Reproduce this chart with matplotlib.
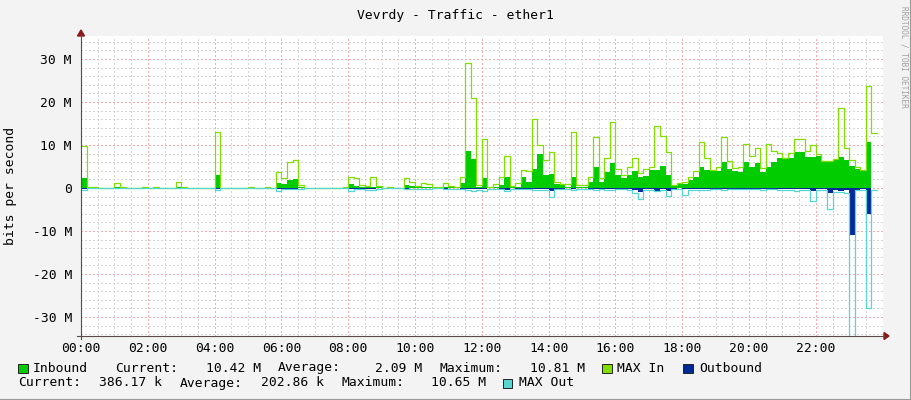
import numpy as np
import matplotlib
matplotlib.use("Agg")
import matplotlib.pyplot as plt
from matplotlib.patches import Rectangle, Polygon
from matplotlib.lines import Line2D

# ---------------- data (values in Mbit/s, 10-minute steps) ----------------
title = "Vevrdy - Traffic - ether1"
y_label = "bits per second"
x_tick_hours = [0, 2, 4, 6, 8, 10, 12, 14, 16, 18, 20, 22]
x_tick_labels = ["00:00", "02:00", "04:00", "06:00", "08:00", "10:00",
                 "12:00", "14:00", "16:00", "18:00", "20:00", "22:00"]
y_ticks = [-30, -20, -10, 0, 10, 20, 30]
y_tick_labels = ["-30 M", "-20 M", "-10 M", "0", "10 M", "20 M", "30 M"]
step_minutes = 10
nan = float("nan")

inbound = [
    2.3, 0, 0.1, 0, 0, 0,            # 00
    0.2, 0.1, 0, 0, 0, 0.1,          # 01
    0, 0.1, 0, 0, 0, 0.2,            # 02
    0.1, 0, 0, 0, 0, 0,              # 03
    3.0, 0, 0, 0, 0, 0,              # 04
    0.1, 0, 0, 0.1, 0, 1.2,          # 05
    1.0, 1.8, 2.0, 0.3, 0, 0,        # 06
    0, 0, 0, 0, 0, 0.1,              # 07
    0.9, 0.5, 0.3, 0.3, 0.3, 0.2,    # 08
    0, 0.1, 0, 0, 0.6, 0.5,          # 09
    0.2, 0.3, 0.3, 0.1, 0.1, 0.3,    # 10
    0.2, 0.1, 1.1, 8.6, 6.8, 0.3,    # 11
    2.3, 0.1, 0.2, 0.8, 2.6, 0.2,    # 12
    0.3, 2.6, 1.5, 4.5, 7.9, 3.0,    # 13
    3.2, 0.9, 0.8, 0.3, 2.6, 0.3,    # 14
    0.3, 1.5, 5.0, 1.4, 3.8, 5.9,    # 15
    3.0, 2.3, 3.0, 4.0, 2.6, 2.8,    # 16
    4.2, 4.2, 5.2, 3.0, 0.5, 0.9,    # 17
    0.9, 1.8, 2.5, 5.0, 4.2, 4.0,    # 18
    4.0, 6.0, 4.5, 3.9, 3.7, 6.0,    # 19
    5.0, 5.8, 3.7, 5.0, 6.0, 6.9,    # 20
    6.7, 6.9, 8.4, 8.4, 7.1, 7.3,    # 21
    7.5, 6.1, 6.1, 6.5, 7.3, 6.5,    # 22
    5.2, 4.5, 4.0, 10.8, 10.4, nan,  # 23
]
max_in = [
    9.8, 0.2, 0.3, 0, 0, 0,
    1.1, 0.3, 0, 0, 0, 0.3,
    0, 0.3, 0, 0, 0, 1.3,
    0.3, 0, 0, 0, 0, 0,
    13.0, 0, 0, 0, 0, 0,
    0.3, 0, 0, 0.3, 0, 3.8,
    2.3, 6.0, 6.5, 0.6, 0, 0,
    0, 0, 0, 0, 0, 0.3,
    2.5, 2.3, 0.6, 0.4, 2.5, 0.5,
    0, 0.3, 0, 0, 2.3, 1.5,
    0.5, 1.1, 1.0, 0.3, 0.3, 1.1,
    0.5, 0.3, 2.6, 29.0, 21.0, 0.7,
    11.5, 0.3, 0.9, 2.5, 7.5, 0.4,
    1.1, 4.3, 4.0, 16.0, 10.0, 6.5,
    8.3, 1.5, 0.9, 0.9, 13.0, 0.6,
    0.6, 2.5, 11.8, 2.3, 7.0, 15.4,
    4.5, 3.0, 5.0, 6.9, 3.6, 4.5,
    5.0, 14.5, 12.2, 8.3, 0.8, 1.2,
    1.5, 2.5, 4.0, 10.8, 7.0, 4.2,
    4.8, 11.9, 6.3, 4.6, 5.0, 10.2,
    7.5, 9.2, 4.6, 10.2, 8.5, 8.2,
    7.0, 8.1, 11.5, 11.4, 8.5, 10.0,
    8.0, 6.3, 6.2, 6.8, 18.5, 9.2,
    6.5, 5.0, 4.3, 23.7, 12.8, nan,
]
outbound = [
    0.3, 0, 0, 0, 0, 0,
    0, 0, 0, 0, 0, 0,
    0, 0, 0, 0, 0, 0,
    0, 0, 0, 0, 0, 0,
    0.3, 0, 0, 0, 0, 0,
    0, 0, 0, 0, 0, 0.3,
    0.2, 0.2, 0.2, 0.1, 0, 0,
    0, 0, 0, 0, 0, 0,
    0.3, 0.2, 0.2, 0.3, 0.3, 0.1,
    0, 0, 0, 0, 0.2, 0.1,
    0.1, 0.1, 0.1, 0.1, 0.1, 0.2,
    0.1, 0.1, 0.2, 0.3, 0.3, 0.2,
    0.3, 0.1, 0.1, 0.2, 0.5, 0.1,
    0.2, 0.2, 0.2, 0.3, 0.3, 0.3,
    0.8, 0.2, 0.2, 0.1, 0.3, 0.1,
    0.1, 0.2, 0.3, 0.2, 0.3, 0.3,
    0.2, 0.2, 0.2, 0.4, 1.0, 0.3,
    0.3, 0.6, 0.3, 0.6, 0.2, 0.1,
    0.2, 0.2, 0.3, 0.3, 0.3, 0.2,
    0.2, 0.3, 0.2, 0.2, 0.2, 0.2,
    0.2, 0.2, 0.3, 0.2, 0.2, 0.3,
    0.3, 0.3, 0.3, 0.3, 0.3, 0.8,
    0.3, 0.3, 1.2, 0.5, 0.6, 0.5,
    10.9, 0.4, 0.3, 6.1, 0.4, nan,
]
max_out = [
    0.5, 0, 0, 0, 0, 0,
    0, 0, 0, 0, 0, 0,
    0, 0, 0, 0, 0, 0,
    0, 0, 0, 0, 0, 0,
    0.4, 0, 0, 0, 0, 0,
    0, 0, 0, 0, 0, 0.6,
    0.3, 0.3, 0.3, 0.2, 0, 0,
    0, 0, 0, 0, 0, 0,
    0.6, 0.3, 0.3, 0.4, 0.4, 0.2,
    0, 0, 0, 0, 0.3, 0.2,
    0.2, 0.2, 0.2, 0.1, 0.1, 0.3,
    0.2, 0.2, 0.3, 0.4, 0.8, 0.4,
    0.7, 0.2, 0.2, 0.3, 0.8, 0.2,
    0.3, 0.3, 0.3, 0.4, 0.4, 0.4,
    2.0, 0.3, 0.3, 0.2, 0.5, 0.2,
    0.2, 0.3, 0.4, 0.3, 0.5, 0.4,
    0.3, 0.3, 0.4, 1.1, 2.5, 0.5,
    0.4, 0.8, 0.4, 1.9, 0.3, 0.2,
    1.6, 0.4, 0.5, 0.4, 0.4, 0.3,
    0.3, 0.4, 0.3, 0.3, 0.3, 0.3,
    0.3, 0.3, 0.4, 0.3, 0.3, 0.4,
    0.4, 0.4, 0.8, 0.5, 0.4, 3.1,
    0.4, 0.5, 5.0, 0.9, 0.9, 1.2,
    40.0, 0.5, 0.4, 28.0, 0.5, nan,
]

legend_row1 = ("Inbound", "Current:", "10.42 M", "Average:", "2.09 M", "Maximum:", "10.81 M")
legend_row2 = ("Current:", "386.17 k", "Average:", "202.86 k", "Maximum:", "10.65 M")

# ---------------- styling ----------------
C_IN = "#00CC00"
C_MAXIN = "#7FE000"
C_OUT = "#002A97"
C_MAXOUT = "#55D6D3"
BACK = "#F3F3F3"
MONO = "DejaVu Sans Mono"
FS = 9.4
MINOR_C = "#D6D6D6"
MAJOR_C = "#F2AAAA"

W, H = 911, 400
fig = plt.figure(figsize=(W / 100, H / 100), dpi=100, facecolor=BACK)

L, R, T, B = 81, 882.6, 36, 336
ax = fig.add_axes([L / W, 1 - B / H, (R - L) / W, (B - T) / H])
ax.set_facecolor("white")
ax.set_xlim(0, 24)
ax.set_ylim(-34.42, 35.35)
for s in ax.spines.values():
    s.set_visible(False)

# grid
for yv in np.arange(-34, 36, 2):
    major = (yv % 10 == 0)
    ax.axhline(yv, color=MAJOR_C if major else MINOR_C, lw=0.75,
               ls=(0, (1, 2)), zorder=0.5, antialiased=False)
for xv in np.arange(0.5, 24.01, 0.5):
    major = (abs(xv % 2) < 1e-9)
    ax.axvline(xv, color=MAJOR_C if major else MINOR_C, lw=0.75,
               ls=(0, (1, 2)), zorder=0.5, antialiased=False)

n = len(inbound)
t = np.arange(n + 1) * step_minutes / 60.0
ext = lambda a: np.append(np.asarray(a, float), a[-1])

ax.fill_between(t, 0, ext(inbound), step="post", color=C_IN, lw=0, zorder=2)
ax.step(t, ext(max_in), where="post", color=C_MAXIN, lw=0.9, zorder=3)
ax.fill_between(t, 0, -ext(outbound), step="post", color=C_OUT, lw=0, zorder=4)
ax.step(t, -ext(max_out), where="post", color=C_MAXOUT, lw=0.9, zorder=5)

# ticks
ax.set_xticks(x_tick_hours)
ax.set_xticklabels(x_tick_labels, fontfamily=MONO, fontsize=FS)
ax.set_yticks(y_ticks)
ax.set_yticklabels(y_tick_labels, fontfamily=MONO, fontsize=FS)
ax.tick_params(axis="both", length=0)
ax.tick_params(axis="x", pad=4)
ax.tick_params(axis="y", pad=6.5)

def px(x, y):
    return x / W, 1 - y / H

# axes lines + arrows
AX_C = "#5A4A4A"
AR_C = "#8B1A1A"
fig.add_artist(Line2D([px(77, 0)[0], px(884, 0)[0]], [px(0, 336)[1]] * 2,
                      color=AX_C, lw=0.8))
fig.add_artist(Line2D([px(81, 0)[0]] * 2, [px(0, 339)[1], px(0, 34)[1]],
                      color=AX_C, lw=0.8))
fig.add_artist(Polygon([px(884, 332.5), px(889, 336), px(884, 339.5)],
                       closed=True, color=AR_C, transform=fig.transFigure))
fig.add_artist(Polygon([px(77.5, 36), px(81, 30), px(84.5, 36)],
                       closed=True, color=AR_C, transform=fig.transFigure))

# title and labels
fig.text(*px(455.5, 15), title, family=MONO, fontsize=FS, ha="center", va="center")
fig.text(*px(11, 186), y_label, family=MONO, fontsize=FS, ha="center",
         va="center", rotation=90)
fig.text(*px(904, 6), "RRDTOOL / TOBI OETIKER", family=MONO, fontsize=5.6,
         color="#A0A0A0", ha="center", va="top", rotation=270)

# legend
def swatch(x, y, color):
    fig.add_artist(Rectangle(px(x, y + 5), 9.5 / W, 9.5 / H, facecolor=color,
                             edgecolor="#222222", lw=0.7,
                             transform=fig.transFigure))

def txt(x, y, s, ha="left"):
    fig.text(*px(x, y), s, family=MONO, fontsize=FS, ha=ha, va="center")

y1, y2 = 368, 383
r1 = legend_row1
swatch(18, y1, C_IN)
txt(33, y1, r1[0])
txt(115, y1, r1[1])
txt(261, y1, r1[2], "right")
txt(278, y1, r1[3])
txt(422, y1, r1[4], "right")
txt(440, y1, r1[5])
txt(585, y1, r1[6], "right")
swatch(602, y1, C_MAXIN)
txt(617, y1, "MAX In")
swatch(683, y1, C_OUT)
txt(699, y1, "Outbound")

r2 = legend_row2
txt(18, y2, r2[0])
txt(162, y2, r2[1], "right")
txt(180, y2, r2[2])
txt(324, y2, r2[3], "right")
txt(342, y2, r2[4])
txt(486, y2, r2[5], "right")
swatch(503, y2, C_MAXOUT)
txt(519, y2, "MAX Out")

# frame
fig.add_artist(Line2D([0, 1], [0.5 / H] * 2, color="#999999", lw=1.5))
fig.add_artist(Line2D([1 - 0.5 / W] * 2, [0, 1], color="#999999", lw=1.5))

fig.savefig("out.png", dpi=100, facecolor=BACK)
